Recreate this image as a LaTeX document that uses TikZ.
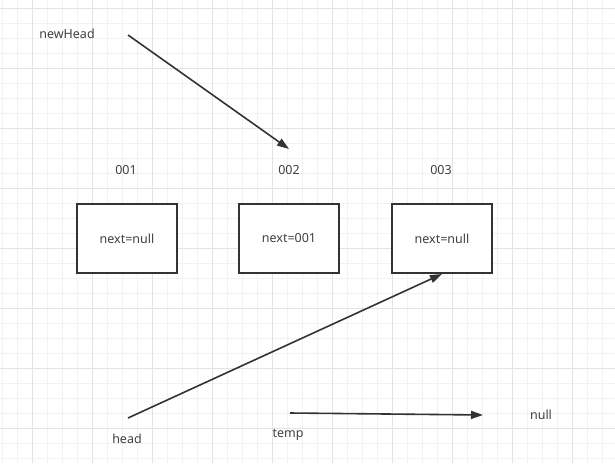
\documentclass[tikz,border=0pt]{standalone}
\usepackage{fontspec}
\setmainfont{Noto Sans}
\usetikzlibrary{arrows.meta}

\begin{document}
\begin{tikzpicture}[x=1pt,y=-1pt,
        minor/.style={draw=black!5, line width=0.8pt},
        major/.style={draw=black!11, line width=0.8pt},
        listnode/.style={draw=black!80, line width=2pt, fill=white,
            minimum width=100pt, minimum height=69pt, inner sep=0pt},
        lbl/.style={text=black!75, font=\fontsize{12.5}{15}\selectfont, inner sep=1pt},
        ptr/.style={draw=black!80, line width=1.6pt, -{Triangle[length=12pt,width=8pt]}}
    ]
    \useasboundingbox (0,0) rectangle (615,463);
    % grid
    \foreach \x in {2,17,...,615} \draw[minor] (\x,0) -- (\x,463);
    \foreach \y in {8,23,...,463} \draw[minor] (0,\y) -- (615,\y);
    \foreach \x in {32,92,...,615} \draw[major] (\x,0) -- (\x,463);
    \foreach \y in {8,68,...,463} \draw[major] (0,\y) -- (615,\y);
    % list
    \node[listnode, lbl] (box001) at (127,238.5) {next=null};
    \node[listnode, lbl] (box002) at (289,238.5) {next=001};
    \node[listnode, lbl] (box003) at (442,238.5) {next=null};
    \node[lbl] (addr001) at (126,170) {001};
    \node[lbl] (addr002) at (289,170) {002};
    \node[lbl] (addr003) at (441,170) {003};
    % pointers
    \node[lbl] (newhead) at (67,34) {newHead};
    \node[lbl] (head) at (127,439) {head};
    \node[lbl] (temp) at (288,435) {temp};
    \node[lbl] (null) at (541,415) {null};
    \coordinate (newheadtail) at (128,35);
    \coordinate (newheadtip) at (289,149);
    \coordinate (headtail) at (128,418);
    \coordinate (temptail) at (290,413);
    \coordinate (temptip) at (483,415);
    \draw[ptr] (newheadtail) -- (newheadtip);
    \draw[ptr] (headtail) -- (box003.south);
    \draw[ptr] (temptail) -- (temptip);
\end{tikzpicture}
\end{document}
